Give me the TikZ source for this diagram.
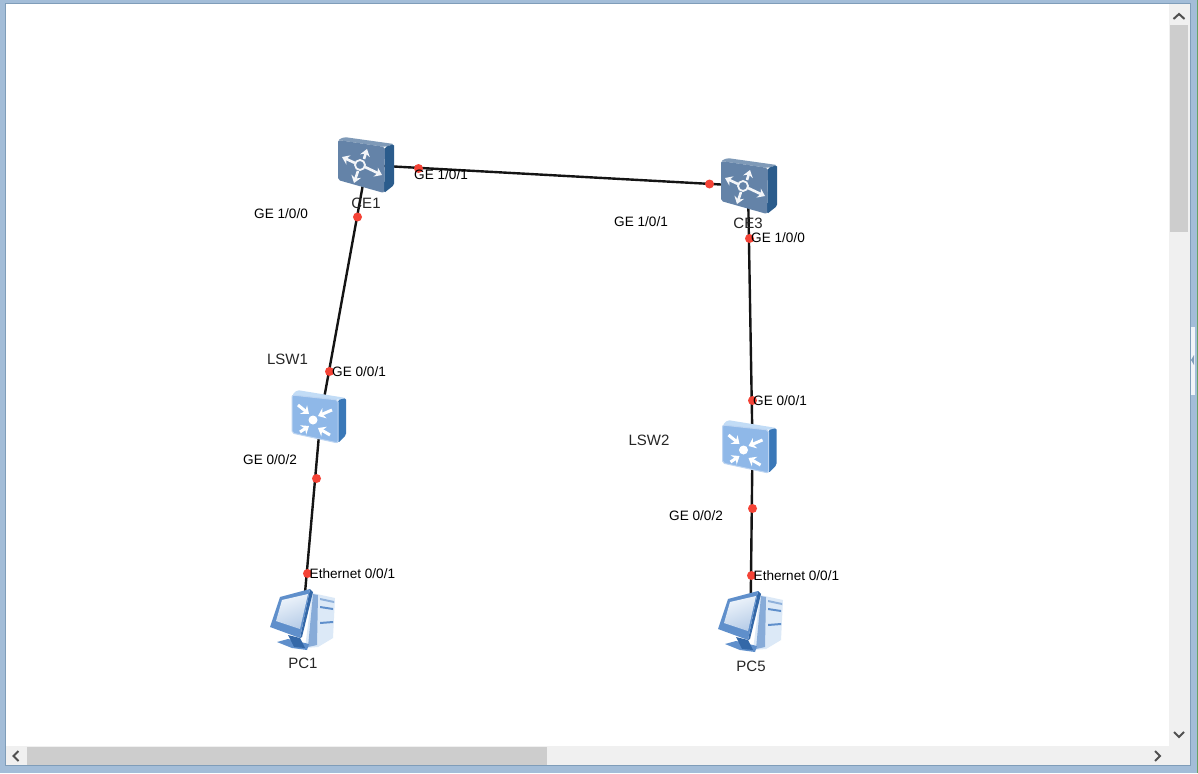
\documentclass[tikz,border=0pt]{standalone}
\usepackage{fontspec}
\setmainfont{Liberation Sans}
\usetikzlibrary{arrows.meta}
\definecolor{frameblue}{HTML}{A3BDD8}
\definecolor{frameline}{HTML}{7F9DB9}
\definecolor{track}{HTML}{F0F0F0}
\definecolor{thumb}{HTML}{CDCDCD}
\definecolor{arrowgrey}{HTML}{505050}
\definecolor{cefront}{HTML}{6483A8}
\definecolor{cetop}{HTML}{7F9AB8}
\definecolor{ceside}{HTML}{2B5C8C}
\definecolor{swfront}{HTML}{8FB8E8}
\definecolor{swtop}{HTML}{C2DCF6}
\definecolor{swside}{HTML}{3A78B8}
\definecolor{pcblue}{HTML}{5F8FCB}
\definecolor{pcdark}{HTML}{3468A8}
\definecolor{pclight}{HTML}{DCE9F7}
\definecolor{reddot}{HTML}{F44336}
\tikzset{
  x=1pt,y=-1pt,
  linkline/.style={line width=2.4pt,black!92},
  portdot/.style={circle,fill=reddot,draw=none,inner sep=0pt,minimum size=9pt},
  devlabel/.style={font=\fontsize{15}{17}\selectfont,text=black!85,inner sep=0pt},
  portlabel/.style={font=\fontsize{13.6}{15}\selectfont,text=black,inner sep=0pt},
  chev/.style={arrowgrey,line width=2pt,line cap=butt},
  cearrow/.style={white!92!cefront,line width=2.6pt,-{Stealth[length=7pt,width=10pt]}},
  swarrow/.style={white,line width=3pt,-{Stealth[length=7pt,width=11pt]}},
  devnode/.style={inner sep=0pt,minimum size=1pt},
  pics/cebox/.style={code={
    \fill[cetop,rounded corners=2pt] (-28,-25) -- (-22,-28) -- (28,-21) -- (19,-18) -- cycle;
    \fill[ceside,rounded corners=1.5pt] (19,-18) -- (28,-21) -- (28,20) -- (18,28) -- cycle;
    \fill[cefront,rounded corners=2pt] (-28,-25) -- (19,-18) -- (18,28) -- (-28,15) -- cycle;
    \draw[cearrow] (-2,-6) -- (1,-16);
    \draw[cearrow] (-11,-2) -- (-24,-8);
    \draw[cearrow] (-8,6) -- (-12,18);
    \draw[cearrow] (-1,2) -- (16,10);
    \draw[white!92!cefront,line width=1.8pt] (-6,0) circle (5);
  }},
  pics/swbox/.style={code={
    \fill[swtop,rounded corners=2pt] (-28,-23) -- (-23,-28) -- (26,-20) -- (18,-18) -- cycle;
    \fill[swside,rounded corners=1.5pt] (18,-18) -- (26,-20) -- (26,17) -- (18,25) -- cycle;
    \fill[swfront,rounded corners=2pt,draw=swfront!60!white,line width=1pt] (-28,-23) -- (18,-18) -- (18,25) -- (-28,15) -- cycle;
    \fill[white] (-7,2) circle (4.5);
    \draw[swarrow] (-22,-13) -- (-11,-4);
    \draw[swarrow] (12,-8) -- (-2,-2);
    \draw[swarrow] (-20,14) -- (-11,8);
    \draw[swarrow] (10,17) -- (-2,10);
  }},
  pics/pcbox/.style={code={
    % tower
    \fill[pclight] (10,-28) -- (33,-23) -- (31,17) -- (16,26) -- (3,27) -- cycle;
    \fill[pcblue!75] (11,-27) -- (16,-26) -- (15,24) -- (6,26) -- cycle;
    \fill[pcblue!70] (18,-23) -- (32,-20) -- (32,-18) -- (18,-21) -- cycle;
    \fill[pcblue] (18,-15) -- (31,-13) -- (31,-11) -- (18,-13) -- cycle;
    \fill[pcblue] (18,1) -- (31,0) -- (31,2) -- (18,3) -- cycle;
    % stand
    \fill[pcblue] (-25,21) -- (-14,18) -- (7,23) -- (5,29) -- (-10,27) -- cycle;
    \fill[pcdark] (-14,14) -- (-2,17) -- (3,27) -- (-8,26) -- cycle;
    % monitor
    \fill[pcdark] (8,-32) -- (11,-29) -- (0,16) -- (-2,17) -- cycle;
    \fill[pcblue] (-22,-24) -- (8,-32) -- (-2,17) -- (-32,6) -- cycle;
    \shade[left color=pclight!45!white,right color=pcblue!45!white,shading angle=20] (-20,-21) -- (6,-27) -- (-2,8) -- (-26,0) -- cycle;
  }},
}
\begin{document}
\begin{tikzpicture}
\useasboundingbox (0,0) rectangle (1198,773);
% window
\fill[frameblue] (0,0) rectangle (1198,773);
\fill[white] (6,4) rectangle (1190,765);
\draw[frameline,line width=1pt] (5.5,3.5) rectangle (1190.5,765.5);
\fill[black!60!green!60] (1196.5,0) rectangle (1198,773);
% vertical scrollbar
\fill[track] (1169,4) rectangle (1190,746);
\fill[thumb] (1170,25) rectangle (1188,232);
\draw[chev] (1173.5,19) -- (1179,14) -- (1184.5,19);
\draw[chev] (1174,732) -- (1179,737) -- (1184,732);
% horizontal scrollbar
\fill[track] (6,746) rectangle (1190,765);
\fill[thumb] (27,746.5) rectangle (547,764.5);
\draw[chev] (18.5,751) -- (13.5,756) -- (18.5,761);
\draw[chev] (1155,751) -- (1160,756) -- (1155,761);
% side grip
\fill[white!85!frameblue] (1191,327) rectangle (1195,395);
\fill[frameline] (1194,355) -- (1191,360) -- (1194,365) -- cycle;
% device anchors
\node[devnode] (ce1) at (366.5,165) {};
\node[devnode] (ce3) at (748,186) {};
\node[devnode] (lsw1) at (320.5,418) {};
\node[devnode] (lsw2) at (752.5,446) {};
\node[devnode] (pc1) at (302.6,620) {};
\node[devnode] (pc5) at (750.5,620) {};
% connectors
\draw[linkline] (ce1) -- (ce3);
\draw[linkline] (ce1) -- (lsw1);
\draw[linkline] (lsw1) -- (pc1);
\draw[linkline] (ce3) -- (lsw2);
\draw[linkline] (lsw2) -- (pc5);
% icons
\pic at (366,165) {cebox};
\pic at (749,186) {cebox};
\pic at (320,418) {swbox};
\pic at (750.5,448) {swbox};
\pic at (302,621) {pcbox};
\pic at (750,623) {pcbox};
% port dots
\node[portdot] (d1) at (418.5,168.5) {};
\node[portdot] (d2) at (709.5,184) {};
\node[portdot] (d3) at (357.5,217) {};
\node[portdot] (d4) at (329.5,371.5) {};
\node[portdot] (d5) at (316.5,478.5) {};
\node[portdot] (d6) at (307.5,573.5) {};
\node[portdot] (d7) at (749.5,238.5) {};
\node[portdot] (d8) at (752.5,400.5) {};
\node[portdot] (d9) at (752.5,508.5) {};
\node[portdot] (d10) at (751.5,575.5) {};
% device labels
\node[devlabel] (tce1) at (366,203) {CE1};
\node[devlabel] (tce3) at (748,223) {CE3};
\node[devlabel] (tlsw1) at (287.5,359) {LSW1};
\node[devlabel] (tlsw2) at (649,440) {LSW2};
\node[devlabel] (tpc1) at (303,663) {PC1};
\node[devlabel] (tpc5) at (751,666) {PC5};
% port labels
\node[portlabel,anchor=west] (p1) at (414,175) {GE 1/0/1};
\node[portlabel,anchor=west] (p2) at (254,214) {GE 1/0/0};
\node[portlabel,anchor=west] (p3) at (614,222) {GE 1/0/1};
\node[portlabel,anchor=west] (p4) at (751,238) {GE 1/0/0};
\node[portlabel,anchor=west] (p5) at (332,372) {GE 0/0/1};
\node[portlabel,anchor=west] (p6) at (243,460) {GE 0/0/2};
\node[portlabel,anchor=west] (p7) at (309.5,574) {Ethernet 0/0/1};
\node[portlabel,anchor=west] (p8) at (753,401) {GE 0/0/1};
\node[portlabel,anchor=west] (p9) at (669,516) {GE 0/0/2};
\node[portlabel,anchor=west] (p10) at (753.5,576) {Ethernet 0/0/1};
\end{tikzpicture}
\end{document}
